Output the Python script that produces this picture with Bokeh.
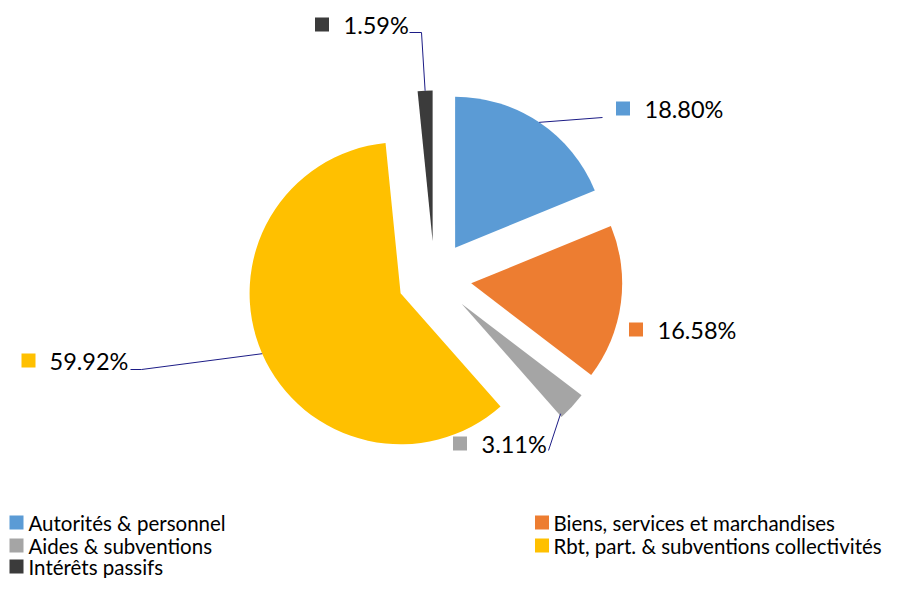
import numpy as np
from bokeh.plotting import figure
from bokeh.models import Range1d
from bokeh.core.properties import value
from bokeh.embed import file_html
from bokeh.resources import INLINE

# ---- data ----
categories = ["Autorités & personnel", "Biens, services et marchandises",
              "Aides & subventions", "Rbt, part. & subventions collectivités",
              "Intérêts passifs"]
shares = [18.80, 16.58, 3.11, 59.92, 1.59]
labels = ["18.80%", "16.58%", "3.11%", "59.92%", "1.59%"]
colors = ["#5B9BD5", "#ED7D31", "#A5A5A5", "#FFC000", "#3B3B3B"]

# ---- layout (screen pixel coordinates) ----
W, H = 896, 578


def Y(s):
    return 594 - np.asarray(s, dtype=float)


cx, cy = 434.0, float(Y(278))
R = 151.0
explode = 37.0

frac = np.array(shares) / sum(shares)
cum = np.concatenate([[0.0], np.cumsum(frac)])
start = np.pi / 2 - 2 * np.pi * cum[1:]
end = np.pi / 2 - 2 * np.pi * cum[:-1]
mid = (start + end) / 2
ox = cx + explode * np.cos(mid)
oy = cy + explode * np.sin(mid)

p = figure(width=W, height=H, x_range=Range1d(0, W), y_range=Range1d(594 - H, 594),
           output_backend="svg", toolbar_location=None, x_axis_type=None, y_axis_type=None,
           min_border=0)
p.grid.visible = False
p.outline_line_color = None
p.background_fill_color = "white"

p.wedge(x=ox, y=oy, radius=R, start_angle=start, end_angle=end,
        direction="anticlock", fill_color=colors, line_color=None)

# data labels: square centre x, text left x, centre y (screen)
lab_sq_x = [622.5, 635.5, 459.5, 28.0, 321.5]
lab_tx_x = [644, 657, 481, 49, 343]
lab_y = [108, 329, 443, 360, 24]
SQ = 14

p.rect(x=lab_sq_x, y=Y(lab_y), width=SQ, height=SQ, fill_color=colors, line_color=None)
p.text(x=lab_tx_x, y=Y(lab_y), text=labels, text_font=value("Lato"), text_font_size="23.5px",
       text_color="#000000", text_baseline="middle", text_align="left")

# leader lines: label-side points, then slice anchor
lead_pts = [[(602, 117)], None, [(548, 450)], [(130, 369), (141, 369)], [(409, 32), (421, 32)]]
lead_f = [0.5, 0.5, 0.05, 0.5, 0.5]
xs, ys = [], []
for i, pts in enumerate(lead_pts):
    if pts is None:
        continue
    a = start[i] + lead_f[i] * (end[i] - start[i])
    r = R - 3 if i == 2 else R
    ax = ox[i] + r * np.cos(a)
    ay = oy[i] + r * np.sin(a)
    xs.append([q[0] for q in pts] + [ax])
    ys.append(list(Y([q[1] for q in pts])) + [ay])
p.multi_line(xs=xs, ys=ys, line_color="#1C1C86", line_width=1)

# legend
leg_sq_x = [16, 541.5, 16, 541.5, 16]
leg_tx_x = [28, 553, 28, 553, 28]
leg_y = [522, 522, 545, 545, 566]
p.rect(x=leg_sq_x, y=Y(leg_y), width=SQ, height=SQ, fill_color=colors, line_color=None)
p.text(x=leg_tx_x, y=Y(leg_y), text=categories, text_font=value("Lato"), text_font_size="20.5px",
       text_color="#000000", text_baseline="middle", text_align="left")

open("out.html", "w").write(file_html(p, INLINE))
